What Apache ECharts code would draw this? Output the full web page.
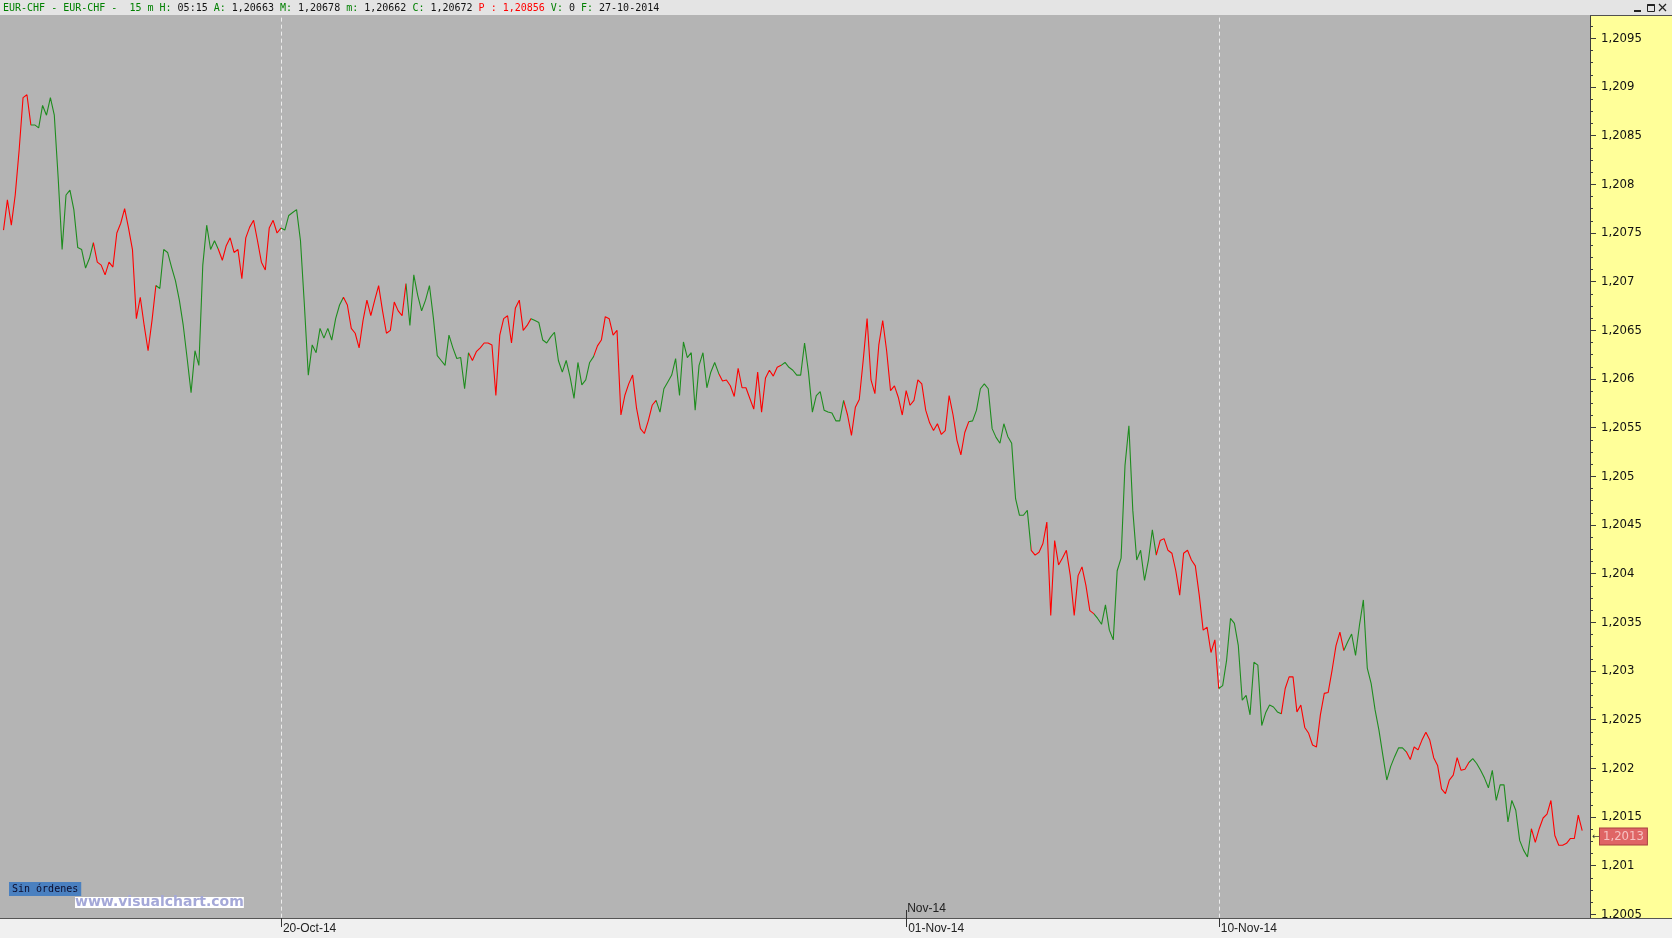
<!DOCTYPE html>
<html><head><meta charset="utf-8">
<script src="https://cdn.jsdelivr.net/npm/echarts@6/dist/echarts.min.js"></script>
<style>html,body{margin:0;padding:0;background:#b4b4b4;}#c{width:1672px;height:938px;}</style>
</head><body><div id="c"></div>
<script>
// ---------- DATA ----------
const days = ['13-Oct-14','14-Oct-14','15-Oct-14','16-Oct-14','17-Oct-14',
  '20-Oct-14','21-Oct-14','22-Oct-14','23-Oct-14','24-Oct-14',
  '27-Oct-14','28-Oct-14','29-Oct-14','30-Oct-14','31-Oct-14',
  '03-Nov-14','04-Nov-14','05-Nov-14','06-Nov-14','07-Nov-14',
  '10-Nov-14','11-Nov-14','12-Nov-14','13-Nov-14','14-Nov-14','17-Nov-14'];
const slotsPerDay = 16;   // 90-minute samples
const firstSlot = 9;      // first sample on the first day (13:30)

const week1 = [1.20753,1.20784,1.20758,1.20789,1.20835,1.20889,1.20892,1.20861,1.20861,1.20858,
  1.20881,1.20871,1.20889,1.20871,1.20806,1.20733,1.20789,1.20794,1.20774,1.20735,
  1.20733,1.20714,1.20724,1.20740,1.20720,1.20717,1.20707,1.20720,1.20715,1.20750,
  1.20760,1.20775,1.20755,1.20733,1.20662,1.20684,1.20655,1.20629,1.20660,1.20696,
  1.20693,1.20733,1.20730,1.20715,1.20701,1.20681,1.20655,1.20621,1.20586,1.20629,
  1.20614,1.20717,1.20758,1.20733,1.20742,1.20733,1.20722,1.20737,1.20745,1.20730,
  1.20733,1.20703,1.20745,1.20756,1.20763,1.20742,1.20720,1.20712,1.20755,1.20763,1.20750];
const week2 = [1.20755,1.20753,1.20768,1.20771,1.20774,1.20742,1.20676,1.20604,1.20635,1.20627,
  1.20652,1.20642,1.20652,1.20640,1.20662,1.20676,1.20684,1.20676,1.20652,1.20647,
  1.20632,1.20660,1.20681,1.20665,1.20681,1.20696,1.20670,1.20647,1.20650,1.20679,
  1.20670,1.20665,1.20698,1.20655,1.20707,1.20686,1.20670,1.20681,1.20696,1.20663,
  1.20624,1.20619,1.20614,1.20645,1.20632,1.20621,1.20622,1.20590,1.20627,1.20619,
  1.20628,1.20632,1.20637,1.20637,1.20635,1.20583,1.20645,1.20662,1.20665,1.20637,
  1.20673,1.20681,1.20650,1.20655,1.20662,1.20660,1.20658,1.20640,1.20637,1.20643,
  1.20648,1.20619,1.20607,1.20619,1.20602,1.20580,1.20617,1.20594,1.20599,1.20617];
const week3 = [1.20623,1.20634,1.20640,1.20664,1.20662,1.20645,1.20650,1.20563,1.20583,1.20595,
  1.20604,1.20570,1.20549,1.20544,1.20557,1.20573,1.20578,1.20566,1.20590,1.20597,
  1.20604,1.20621,1.20583,1.20638,1.20622,1.20627,1.20568,1.20614,1.20627,1.20591,
  1.20607,1.20617,1.20606,1.20598,1.20599,1.20593,1.20582,1.20611,1.20591,1.20591,
  1.20580,1.20569,1.20607,1.20566,1.20601,1.20609,1.20603,1.20612,1.20614,1.20617,
  1.20612,1.20609,1.20604,1.20604,1.20637,1.20607,1.20566,1.20583,1.20587,1.20568,
  1.20566,1.20565,1.20557,1.20557,1.20578,1.20563,1.20542,1.20571,1.20579,1.20619,
  1.20662,1.20599,1.20585,1.20635,1.20660,1.20629,1.20588,1.20593,1.20581,1.20563];
const week4 = [1.20588,1.20573,1.20578,1.20599,1.20595,1.20568,1.20555,1.20547,1.20554,1.20543,
  1.20547,1.20583,1.20563,1.20537,1.20522,1.20545,1.20556,1.20557,1.20568,1.20590,
  1.20595,1.20590,1.20549,1.20540,1.20534,1.20554,1.20541,1.20534,1.20477,1.20460,
  1.20460,1.20465,1.20424,1.20419,1.20422,1.20431,1.20453,1.20357,1.20434,1.20409,
  1.20416,1.20424,1.20398,1.20357,1.20398,1.20407,1.20388,1.20362,1.20359,1.20354,
  1.20348,1.20368,1.20342,1.20332,1.20403,1.20416,1.20511,1.20552,1.20465,1.20414,
  1.20424,1.20393,1.20414,1.20445,1.20419,1.20434,1.20436,1.20424,1.20421,1.20403,
  1.20378,1.20421,1.20424,1.20414,1.20408,1.20378,1.20342,1.20345,1.20319,1.20332];
const week5 = [1.20282,1.20285,1.20311,1.20354,1.20349,1.20326,1.20270,1.20275,1.20255,1.20309,
  1.20306,1.20244,1.20257,1.20265,1.20263,1.20258,1.20256,1.20282,1.20294,1.20294,
  1.20258,1.20265,1.20242,1.20236,1.20224,1.20222,1.20255,1.20277,1.20278,1.20301,
  1.20326,1.20340,1.20321,1.20330,1.20338,1.20316,1.20347,1.20373,1.20303,1.20287,
  1.20260,1.20239,1.20213,1.20188,1.20202,1.20212,1.20221,1.20221,1.20217,1.20209,
  1.20222,1.20219,1.20229,1.20237,1.20229,1.20211,1.20203,1.20179,1.20174,1.20188,
  1.20193,1.20211,1.20198,1.20199,1.20206,1.20210,1.20205,1.20198,1.20190,1.20180,
  1.20198,1.20167,1.20183,1.20183,1.20145,1.20167,1.20157,1.20126,1.20116,1.20109];
const week6 = [1.20138,1.20124,1.20138,1.20149,1.20153,1.20167,1.20131,1.20121,1.20121,1.20123,
  1.20128,1.20128,1.20152,1.20136];

const lastQuote = 1.2013;
const dateTicks = [['20-Oct-14','20-Oct-14'],['03-Nov-14','01-Nov-14'],['10-Nov-14','10-Nov-14']];
const monthTicks = [['03-Nov-14','Nov-14']];
const gridDays = ['20-Oct-14','10-Nov-14'];
const yMin = 1.2000, yMax = 1.2100, yStep = 0.0005;

// ---------- BUILD ----------
const closes = week1.concat(week2, week3, week4, week5, week6);
const categories = [];
const dayStart = [];
days.forEach((d, k) => {
  dayStart.push(categories.length);
  for (let s = (k === 0 ? firstSlot : 0); s < slotsPerDay; s++) {
    const m = s * 90;
    categories.push(d + ' ' + String(Math.floor(m / 60)).padStart(2, '0') + ':' + String(m % 60).padStart(2, '0'));
  }
});
const catDay = categories.map(c => c.split(' ')[0]);
const firstOfDay = i => i === 0 || catDay[i] !== catDay[i - 1];
const dateMap = Object.fromEntries(dateTicks);
const monthMap = Object.fromEntries(monthTicks);
const isDateTick = i => firstOfDay(i) && dateMap[catDay[i]] !== undefined;
const isMonthTick = i => firstOfDay(i) && monthMap[catDay[i]] !== undefined;
const isGridDay = i => firstOfDay(i) && gridDays.indexOf(catDay[i]) >= 0;

const RED = '#ff0000', GREEN = '#1e8c1e';
const pieces = days.map((d, k) => ({
  gte: k === 0 ? -1 : dayStart[k],
  lt: k === days.length - 1 ? categories.length + 1 : dayStart[k + 1],
  color: parseInt(d, 10) % 2 ? RED : GREEN
}));
const fmtPrice = v => String(+(+v).toFixed(4)).replace('.', ',');
const AXIS_FONT = "'DejaVu Sans Condensed', 'Liberation Sans', sans-serif";

// layout: 1.2095 at y=38.3, 0.0005 = 48.67px
const PX = 48.67;
const yTopPix = 38.3 - (yMax - 1.2095) / yStep * PX;
const yBotPix = 38.3 + (1.2095 - yMin) / yStep * PX;
const axisY = 918;

const chart = echarts.init(document.getElementById('c'), null, {renderer: 'canvas'});
const baseX = {
  type: 'category', data: categories, boundaryGap: false, position: 'bottom',
  offset: axisY - yBotPix, axisLine: {show: false}, splitLine: {show: false}
};
chart.setOption({
  animation: false,
  backgroundColor: '#b4b4b4',
  grid: {left: 3.5, right: 82, top: yTopPix, bottom: 938 - yBotPix, containLabel: false, outerBoundsMode: 'none'},
  xAxis: [
    Object.assign({}, baseX, {
      z: 30,
      axisTick: {show: true, interval: isDateTick, length: 9, lineStyle: {color: '#333'}},
      axisLabel: {show: true, interval: isDateTick, formatter: v => dateMap[v.split(' ')[0]],
        align: 'left', margin: 5, padding: [0, 0, 0, 2], fontSize: 12, fontFamily: 'Liberation Sans', color: '#222'}
    }),
    Object.assign({}, baseX, {
      z: 30,
      axisTick: {show: true, inside: true, interval: isMonthTick, length: 8, lineStyle: {color: '#333'}},
      axisLabel: {show: true, inside: true, interval: isMonthTick, formatter: v => monthMap[v.split(' ')[0]],
        align: 'left', margin: 3, padding: [0, 0, 0, 1], fontSize: 12, fontFamily: 'Liberation Sans', color: '#222'}
    }),
    Object.assign({}, baseX, {
      z: 1,
      axisTick: {show: false}, axisLabel: {show: false},
      splitLine: {show: true, interval: isGridDay, lineStyle: {color: '#ececec', width: 1, type: [4, 3]}}
    })
  ],
  yAxis: {
    type: 'value', position: 'right', min: yMin, max: yMax, interval: yStep, z: 5,
    axisLine: {show: true, lineStyle: {color: '#3c3c3c'}},
    axisTick: {show: true, length: 6, lineStyle: {color: '#3c3c3c'}},
    minorTick: {show: true, splitNumber: 4, length: 3, lineStyle: {color: '#3c3c3c'}},
    splitLine: {show: false}, minorSplitLine: {show: false},
    axisLabel: {margin: 11, fontSize: 13, fontFamily: AXIS_FONT, color: '#111', formatter: fmtPrice}
  },
  visualMap: {type: 'piecewise', show: false, dimension: 0, seriesIndex: 0, pieces: pieces},
  series: [{
    type: 'line', data: closes, xAxisIndex: 0, showSymbol: false, symbol: 'none', z: 2,
    lineStyle: {width: 1.1}
  }],
  graphic: [
    {id: 'yellow', type: 'rect', z: 1, silent: true, shape: {x: 1590, y: 15, width: 82, height: 903}, style: {fill: '#ffff99'}},
    {id: 'head', type: 'rect', z: 20, silent: true, shape: {x: 0, y: 0, width: 1672, height: 15}, style: {fill: '#e4e4e4'}},
    {id: 'yline', type: 'line', z: 21, silent: true, shape: {x1: 1590, y1: 15.5, x2: 1672, y2: 15.5}, style: {stroke: '#505050', lineWidth: 1}},
    {id: 'foot', type: 'rect', z: 20, silent: true, shape: {x: 0, y: 918, width: 1672, height: 20}, style: {fill: '#f0f0f0'}},
    {id: 'footline', type: 'line', z: 21, silent: true, shape: {x1: 0, y1: 918.5, x2: 1672, y2: 918.5}, style: {stroke: '#555555', lineWidth: 1}},
    {id: 'headtext', type: 'text', z: 30, silent: true, x: 3, y: 8, style: {
      text: '{g|EUR-CHF - EUR-CHF -  15 m H:}{k| 05:15 }{g|A:}{k| 1,20663 }{g|M:}{k| 1,20678 }{g|m:}{k| 1,20662 }{g|C:}{k| 1,20672 }{r|P : 1,20856 }{g|V:}{k| 0 }{g|F:}{k| 27-10-2014}',
      verticalAlign: 'middle', font: '10px "DejaVu Sans Mono"',
      rich: {
        g: {fill: '#008000', fontSize: 10, fontFamily: 'DejaVu Sans Mono'},
        k: {fill: '#111111', fontSize: 10, fontFamily: 'DejaVu Sans Mono'},
        r: {fill: '#ff0000', fontSize: 10, fontFamily: 'DejaVu Sans Mono'}
      }
    }},
    {id: 'b1', type: 'rect', z: 30, silent: true, shape: {x: 1634, y: 10, width: 7, height: 2}, style: {fill: '#222'}},
    {id: 'b2', type: 'rect', z: 30, silent: true, shape: {x: 1647.5, y: 4.5, width: 7, height: 7}, style: {fill: 'none', stroke: '#222', lineWidth: 1}},
    {id: 'b3', type: 'line', z: 30, silent: true, shape: {x1: 1647.5, y1: 5, x2: 1654.5, y2: 5}, style: {stroke: '#222', lineWidth: 2}},
    {id: 'b4', type: 'line', z: 30, silent: true, shape: {x1: 1659, y1: 4, x2: 1666, y2: 11}, style: {stroke: '#222', lineWidth: 1.3}},
    {id: 'b5', type: 'line', z: 30, silent: true, shape: {x1: 1666, y1: 4, x2: 1659, y2: 11}, style: {stroke: '#222', lineWidth: 1.3}},
    {id: 'orders', type: 'text', z: 30, silent: true, x: 9, y: 882, style: {
      text: 'Sin órdenes', font: '10px "DejaVu Sans Mono"', fill: '#0c0c2c',
      backgroundColor: '#4a80c0', padding: [1, 3, 1, 3], lineHeight: 12
    }},
    {id: 'www', type: 'text', z: 30, silent: true, x: 75, y: 897, style: {
      text: 'www.visualchart.com', font: 'bold 14px "DejaVu Sans"', fill: '#a4a8d8',
      backgroundColor: '#ffffff', lineHeight: 11
    }}
  ]
});

// last-quote marker placed through the y axis scale
const qy = chart.convertToPixel({yAxisIndex: 0}, lastQuote);
chart.setOption({
  graphic: [
    {id: 'qarrow', type: 'text', z: 30, silent: true, x: 1592, y: qy, style: {
      text: '←', font: '9px "DejaVu Sans"', fill: '#333', verticalAlign: 'middle'
    }},
    {id: 'qbox', type: 'text', z: 30, silent: true, x: 1600, y: qy, style: {
      text: fmtPrice(lastQuote), font: "13px 'DejaVu Sans Condensed', 'Liberation Sans', sans-serif",
      fill: '#f6c2c2', backgroundColor: '#df6565', borderColor: '#a84040', borderWidth: 1,
      padding: [2, 3, 1, 3], verticalAlign: 'middle'
    }}
  ]
});
</script>
</body></html>
